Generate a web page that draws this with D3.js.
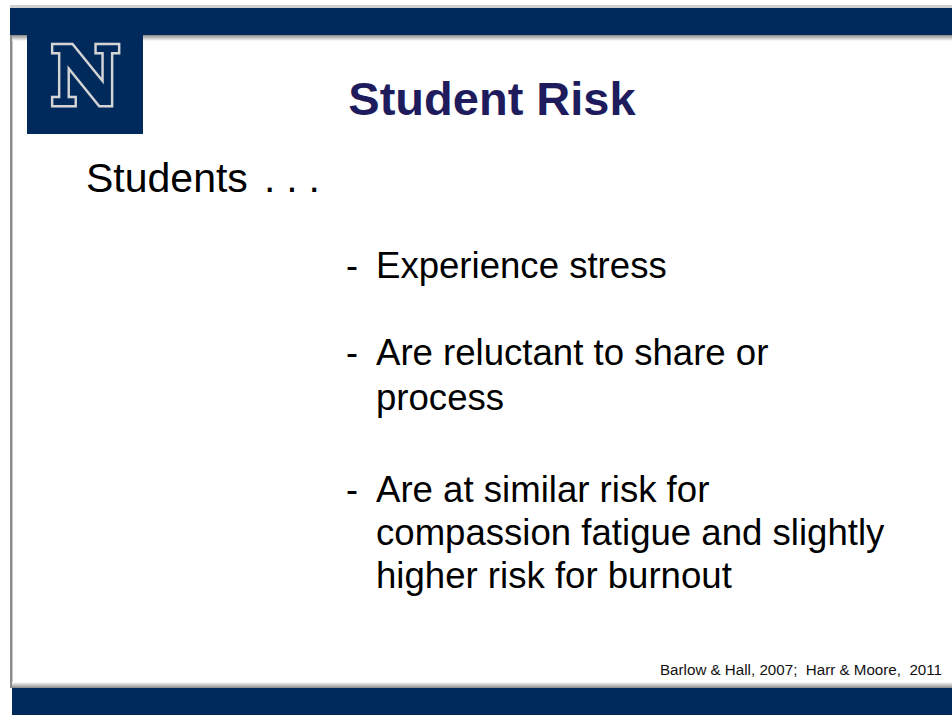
<!DOCTYPE html>
<html>
<head>
<meta charset="utf-8">
<script src="https://cdn.jsdelivr.net/npm/d3@7"></script>
<style>
  html, body { margin: 0; padding: 0; background: #fff; }
  svg { display: block; }
  text { font-family: "Liberation Sans", Arial, sans-serif; }
</style>
</head>
<body>
<div class="slide"></div>
<script>
// Slide content
const title = "Student Risk";
const leadWord = "Students";
const leadDots = ". . .";
const bullets = [
    ["Experience stress"],
    ["Are reluctant to share or", "process"],
    ["Are at similar risk for", "compassion fatigue and slightly", "higher risk for burnout"]
];
const citation = "Barlow & Hall, 2007;  Harr & Moore,  2011";

// Slide dimensions
const width = 952;
const height = 715;
const navy = "#002a5c";

const svg = d3.select(".slide")
    .append("svg")
    .attr("width", width)
    .attr("height", height);

const defs = svg.append("defs");

// soft shadow under the top bar
const shadowDown = defs.append("linearGradient")
    .attr("id", "shadowDown")
    .attr("x1", 0).attr("y1", 0).attr("x2", 0).attr("y2", 1);
shadowDown.append("stop").attr("offset", "0%").attr("stop-color", "#8a8a8a");
shadowDown.append("stop").attr("offset", "100%").attr("stop-color", "#ffffff");

// soft shadow above the bottom bar
const shadowUp = defs.append("linearGradient")
    .attr("id", "shadowUp")
    .attr("x1", 0).attr("y1", 1).attr("x2", 0).attr("y2", 0);
shadowUp.append("stop").attr("offset", "0%").attr("stop-color", "#8a8a8a");
shadowUp.append("stop").attr("offset", "100%").attr("stop-color", "#ffffff");

// thin gray line above the top bar
svg.append("rect")
    .attr("x", 10).attr("y", 5)
    .attr("width", width - 10).attr("height", 3)
    .attr("fill", "#d0d0d0");

// left frame line
svg.append("rect")
    .attr("x", 10).attr("y", 8)
    .attr("width", 2.5).attr("height", 680)
    .attr("fill", "#8c8c8c");

// top bar + shadow
svg.append("rect")
    .attr("x", 10).attr("y", 8)
    .attr("width", width - 10).attr("height", 27)
    .attr("fill", navy);
svg.append("rect")
    .attr("x", 12).attr("y", 35)
    .attr("width", width - 12).attr("height", 6)
    .attr("fill", "url(#shadowDown)");

// bottom bar + shadow
svg.append("rect")
    .attr("x", 12).attr("y", 682)
    .attr("width", width - 12).attr("height", 6)
    .attr("fill", "url(#shadowUp)");
svg.append("rect")
    .attr("x", 12).attr("y", 688)
    .attr("width", width - 12).attr("height", height - 688)
    .attr("fill", navy);

// logo block with outlined N
svg.append("rect")
    .attr("x", 27).attr("y", 35)
    .attr("width", 116).attr("height", 99)
    .attr("fill", navy);
svg.append("text")
    .attr("x", 51).attr("y", 104)
    .attr("textLength", 69)
    .attr("lengthAdjust", "spacingAndGlyphs")
    .style("font-family", "'DejaVu Serif', 'Liberation Serif', serif")
    .style("font-weight", "900")
    .style("font-size", "78px")
    .attr("fill", navy)
    .attr("stroke", "#d4d4d4")
    .attr("stroke-width", 7)
    .attr("stroke-linejoin", "miter")
    .text("N");
svg.append("text")
    .attr("x", 51).attr("y", 104)
    .attr("textLength", 69)
    .attr("lengthAdjust", "spacingAndGlyphs")
    .style("font-family", "'DejaVu Serif', 'Liberation Serif', serif")
    .style("font-weight", "900")
    .style("font-size", "78px")
    .attr("fill", navy)
    .attr("stroke", navy)
    .attr("stroke-width", 2)
    .text("N");

// title
svg.append("text")
    .attr("x", 492).attr("y", 115)
    .attr("text-anchor", "middle")
    .style("font-size", "47px")
    .style("font-weight", "bold")
    .attr("fill", "#1e1c5c")
    .text(title);

// lead line
svg.append("text")
    .attr("x", 86).attr("y", 192)
    .style("font-size", "41px")
    .attr("fill", "#000")
    .text(leadWord);
svg.append("text")
    .attr("x", 264).attr("y", 192)
    .attr("textLength", 56)
    .attr("lengthAdjust", "spacing")
    .style("font-size", "41px")
    .attr("fill", "#000")
    .text(leadDots);

// bullets
const bulletTops = [278, 365, 502];
const lineSteps = [44, 45, 43];
const dashX = 346;
const textX = 376;

const groups = svg.selectAll(".bullet")
    .data(bullets)
    .enter()
    .append("g")
    .attr("class", "bullet")
    .attr("transform", (d, i) => `translate(0, ${bulletTops[i]})`);

groups.append("text")
    .attr("x", dashX)
    .attr("y", 0)
    .style("font-size", "36px")
    .attr("fill", "#000")
    .text("-");

groups.each(function(lines, gi) {
    d3.select(this).selectAll(".line")
        .data(lines)
        .enter()
        .append("text")
        .attr("class", "line")
        .attr("x", textX)
        .attr("y", (d, i) => i * lineSteps[gi])
        .style("font-size", "36.6px")
        .attr("fill", "#000")
        .text(d => d);
});

// citation
svg.append("text")
    .attr("x", 660).attr("y", 675)
    .attr("textLength", 282)
    .attr("lengthAdjust", "spacingAndGlyphs")
    .style("font-size", "14px")
    .style("white-space", "pre")
    .attr("fill", "#111")
    .text(citation);
</script>
</body>
</html>
